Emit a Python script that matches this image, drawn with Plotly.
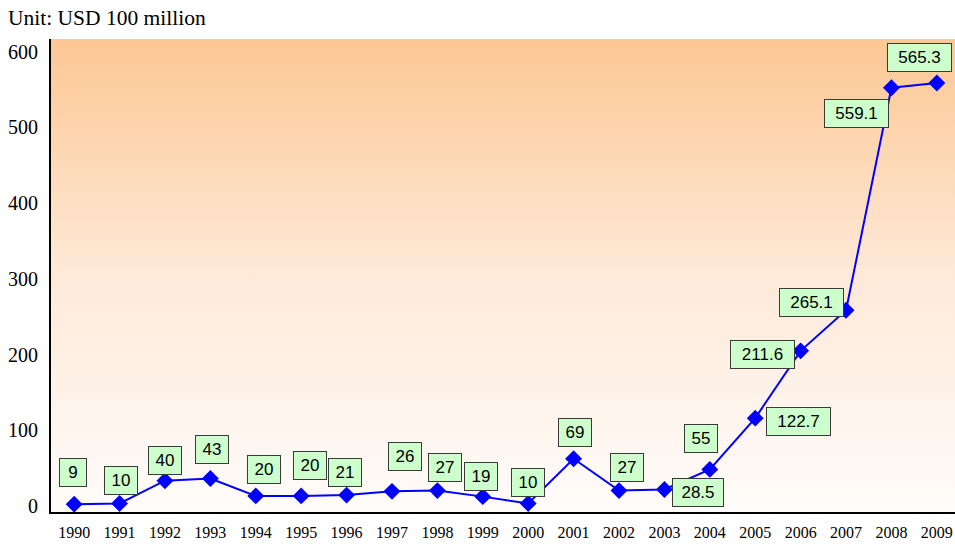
import plotly.graph_objects as go
import urllib.parse

years = [1990, 1991, 1992, 1993, 1994, 1995, 1996, 1997, 1998, 1999,
         2000, 2001, 2002, 2003, 2004, 2005, 2006, 2007, 2008, 2009]
values = [9, 10, 40, 43, 20, 20, 21, 26, 27, 19,
          10, 69, 27, 28.5, 55, 122.7, 211.6, 265.1, 559.1, 565.3]
labels = ["9", "10", "40", "43", "20", "20", "21", "26", "27", "19",
          "10", "69", "27", "28.5", "55", "122.7", "211.6", "265.1", "559.1", "565.3"]
y_ticks = [0, 100, 200, 300, 400, 500, 600]
unit_text = "Unit: USD 100 million"

# label box offsets in pixels (dx right, dy down) relative to each point
label_dx = [-1, 1, 0, 2, 8, 9, -2, 13, 8, -2, 0, 1, 8, 34, -9, 43, -38, -35, -35, -17]
label_dy = [-32, -23, -20, -29, -26, -30, -23, -35, -23, -20, -21, -26, -23, 3, -31, 3, 4, -8, 26, -26]
box_w = {1: 26, 2: 32, 3: 42, 4: 50, 5: 63}

svg = ('<svg xmlns="http://www.w3.org/2000/svg" width="100" height="100" preserveAspectRatio="none">'
       '<defs><linearGradient id="g" x1="0" y1="0" x2="0" y2="1">'
       '<stop offset="0" stop-color="#FCC793"/>'
       '<stop offset="0.5" stop-color="#FEE9D8"/>'
       '<stop offset="1" stop-color="#FFFCFA"/>'
       '</linearGradient></defs><rect width="100" height="100" fill="url(#g)"/></svg>')
svg_uri = "data:image/svg+xml;charset=utf-8," + urllib.parse.quote(svg)

fig = go.Figure()
fig.add_trace(go.Scatter(
    x=years, y=values, mode="lines+markers",
    line=dict(color="#0000FF", width=2),
    marker=dict(symbol="diamond", size=13, color="#0000FF"),
    hoverinfo="x+y", showlegend=False,
))

for yr, v, t, dx, dy in zip(years, values, labels, label_dx, label_dy):
    fig.add_annotation(
        x=yr, y=v, text=t, showarrow=False,
        xanchor="center", yanchor="middle",
        xshift=dx, yshift=-dy,
        width=box_w[len(t)], height=27,
        bgcolor="#CCFFCC", bordercolor="#3A3A3A", borderwidth=1, borderpad=0,
        font=dict(family="Liberation Sans, Arial", size=17, color="#000000"),
    )

fig.add_layout_image(dict(
    source=svg_uri, xref="paper", yref="paper", x=0, y=1,
    sizex=1, sizey=1, sizing="stretch", layer="below",
))

fig.update_layout(
    width=955, height=544,
    margin=dict(l=51, r=0, t=39, b=32),
    paper_bgcolor="#FFFFFF", plot_bgcolor="rgba(0,0,0,0)",
    title=dict(text=unit_text, x=8/955, y=1-17/544, xref="container", yref="container",
               xanchor="left", yanchor="middle",
               font=dict(family="Liberation Serif, Times New Roman", size=21.5, color="#000000")),
    xaxis=dict(
        range=[1989.49, 2009.40], tickmode="array", tickvals=years,
        ticktext=[str(y) for y in years], showgrid=False, zeroline=False,
        showline=True, linecolor="#000000", linewidth=2,
        ticks="", ticklabelstandoff=5,
        tickfont=dict(family="Liberation Serif, Times New Roman", size=16, color="#000000"),
        fixedrange=True,
    ),
    yaxis=dict(
        range=[-1.3, 623.5], tickmode="array", tickvals=y_ticks,
        showgrid=False, zeroline=False,
        showline=True, linecolor="#000000", linewidth=2,
        ticks="", ticklabelstandoff=7, ticklabelshift=-5,
        tickfont=dict(family="Liberation Serif, Times New Roman", size=20, color="#000000"),
        fixedrange=True,
    ),
)

fig.write_html("out.html")
